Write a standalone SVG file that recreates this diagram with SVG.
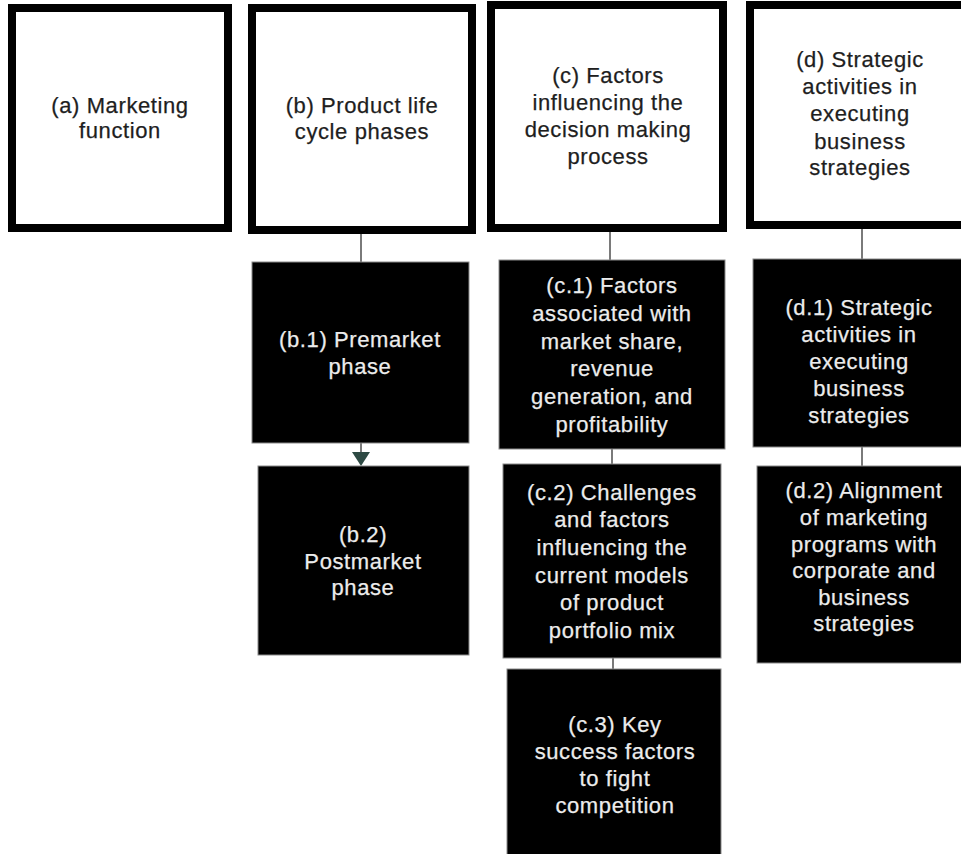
<svg xmlns="http://www.w3.org/2000/svg" width="961" height="854" viewBox="0 0 961 854">
<style>
.top{fill:#ffffff;stroke:#000000;stroke-width:8}
.sub{fill:#000000;stroke:#8a8a8a;stroke-width:1}
.tt{font-family:"Liberation Sans",Arial,sans-serif;font-size:22px;letter-spacing:0.6px;fill:#1e1e1e;stroke:#1e1e1e;stroke-width:0.25;text-anchor:middle}
.st{font-family:"Liberation Sans",Arial,sans-serif;font-size:22px;letter-spacing:0.6px;fill:#ececec;stroke:#ececec;stroke-width:0.25;text-anchor:middle}
.ln{stroke:#7a7a7a;stroke-width:2;fill:none}
</style>
<rect width="961" height="854" fill="#ffffff"/>
<g id="connectors">
<line class="ln" x1="361" y1="234" x2="361" y2="262"/>
<line class="ln" x1="610" y1="232" x2="610" y2="260"/>
<line class="ln" x1="862" y1="229" x2="862" y2="259"/>
<line class="ln" x1="361" y1="443" x2="361" y2="453"/>
<polygon points="352,452 370,452 361,466" fill="#2e4a44"/>
<line class="ln" x1="612" y1="449" x2="612" y2="464"/>
<line class="ln" x1="613" y1="658" x2="613" y2="669"/>
<line class="ln" x1="862" y1="447" x2="862" y2="466"/>
</g>
<g id="node-a">
<rect class="top" x="12" y="8" width="216" height="220"/>
<text class="tt" x="120" y="113">(a) Marketing</text>
<text class="tt" x="120" y="138">function</text>
</g>
<g id="node-b">
<rect class="top" x="252" y="8" width="220" height="222"/>
<text class="tt" x="362" y="113">(b) Product life</text>
<text class="tt" x="362" y="139">cycle phases</text>
</g>
<g id="node-c">
<rect class="top" x="491" y="5" width="232" height="223"/>
<text class="tt" x="608" y="83">(c) Factors</text>
<text class="tt" x="608" y="110">influencing the</text>
<text class="tt" x="608" y="137">decision making</text>
<text class="tt" x="608" y="164">process</text>
</g>
<g id="node-d">
<rect class="top" x="750" y="5" width="222" height="220"/>
<text class="tt" x="860" y="67">(d) Strategic</text>
<text class="tt" x="860" y="94">activities in</text>
<text class="tt" x="860" y="121">executing</text>
<text class="tt" x="860" y="149">business</text>
<text class="tt" x="860" y="175">strategies</text>
</g>
<g id="node-b1">
<rect class="sub" x="252" y="262" width="217" height="181"/>
<text class="st" x="360" y="347">(b.1) Premarket</text>
<text class="st" x="360" y="374">phase</text>
</g>
<g id="node-b2">
<rect class="sub" x="258" y="466" width="211" height="189"/>
<text class="st" x="363" y="542">(b.2)</text>
<text class="st" x="363" y="569">Postmarket</text>
<text class="st" x="363" y="595">phase</text>
</g>
<g id="node-c1">
<rect class="sub" x="499" y="260" width="226" height="189"/>
<text class="st" x="612" y="293">(c.1) Factors</text>
<text class="st" x="612" y="321">associated with</text>
<text class="st" x="612" y="349">market share,</text>
<text class="st" x="612" y="376">revenue</text>
<text class="st" x="612" y="404">generation, and</text>
<text class="st" x="612" y="432">profitability</text>
</g>
<g id="node-c2">
<rect class="sub" x="503" y="464" width="218" height="194"/>
<text class="st" x="612" y="500">(c.2) Challenges</text>
<text class="st" x="612" y="527">and factors</text>
<text class="st" x="612" y="555">influencing the</text>
<text class="st" x="612" y="583">current models</text>
<text class="st" x="612" y="610">of product</text>
<text class="st" x="612" y="638">portfolio mix</text>
</g>
<g id="node-c3">
<rect class="sub" x="507" y="669" width="214" height="190"/>
<text class="st" x="615" y="732">(c.3) Key</text>
<text class="st" x="615" y="759">success factors</text>
<text class="st" x="615" y="786">to fight</text>
<text class="st" x="615" y="813">competition</text>
</g>
<g id="node-d1">
<rect class="sub" x="753" y="259" width="215" height="188"/>
<text class="st" x="859" y="315">(d.1) Strategic</text>
<text class="st" x="859" y="342">activities in</text>
<text class="st" x="859" y="369">executing</text>
<text class="st" x="859" y="396">business</text>
<text class="st" x="859" y="423">strategies</text>
</g>
<g id="node-d2">
<rect class="sub" x="757" y="466" width="215" height="197"/>
<text class="st" x="864" y="498">(d.2) Alignment</text>
<text class="st" x="864" y="525">of marketing</text>
<text class="st" x="864" y="552">programs with</text>
<text class="st" x="864" y="578">corporate and</text>
<text class="st" x="864" y="605">business</text>
<text class="st" x="864" y="631">strategies</text>
</g>
</svg>
